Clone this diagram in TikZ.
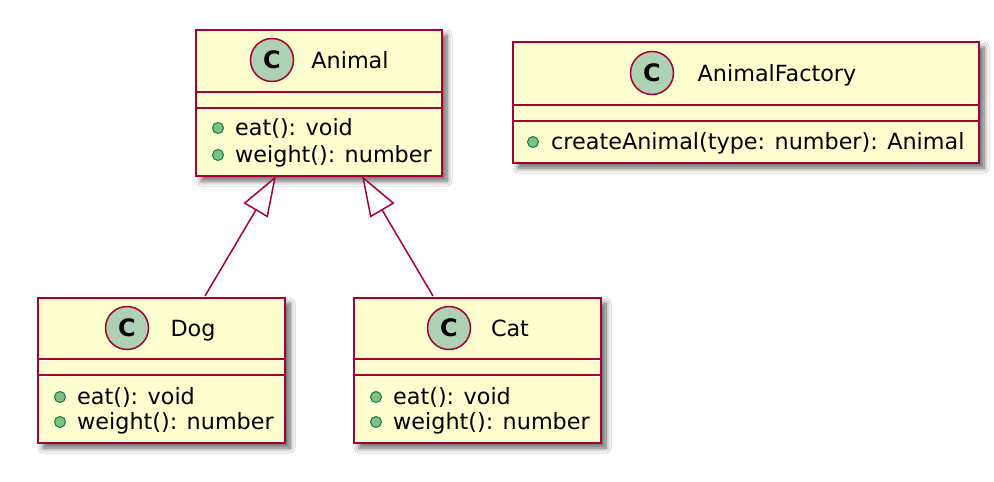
\documentclass[tikz,border=0pt]{standalone}
\usepackage{fontspec}
\setmainfont{DejaVu Sans}
\usetikzlibrary{arrows.meta,shadows.blur}
\definecolor{umlborder}{HTML}{A80036}
\definecolor{umlfill}{HTML}{FEFECE}
\definecolor{circfill}{HTML}{ADD1B2}
\definecolor{bulfill}{HTML}{84BE84}
\definecolor{bulborder}{HTML}{038048}
\begin{document}
\begin{tikzpicture}[x=1pt,y=-1pt,
  classbox/.style={draw=umlborder, fill=umlfill, line width=2.2pt, anchor=north west, inner sep=0pt,
    blur shadow={shadow xshift=5pt, shadow yshift=-5pt, shadow blur radius=5pt, shadow blur steps=10, shadow opacity=60}},
  sepline/.style={draw=umlborder, line width=2.2pt},
  ccircle/.style={circle, draw=umlborder, fill=circfill, line width=1.5pt, minimum size=43pt, inner sep=0pt,
    font=\fontsize{24}{29}\selectfont\bfseries},
  ctitle/.style={anchor=base, inner sep=0pt, font=\fontsize{22.3}{27}\selectfont},
  bullet/.style={circle, draw=bulborder, fill=bulfill, line width=1pt, minimum size=11pt, inner sep=0pt},
  meth/.style={anchor=base west, inner sep=0pt, font=\fontsize{22.3}{27}\selectfont},
  inherit/.style={draw=umlborder, line width=1.5pt, -{Triangle[length=40pt, width=28pt, fill=white]}}
]
\useasboundingbox[fill=white] (0,0) rectangle (994,482);

% Animal
\node[classbox, minimum width=246pt, minimum height=146pt] (animal) at (195,29) {};
\draw[sepline] ([yshift=-63pt]animal.north west) -- ([yshift=-63pt]animal.north east);
\draw[sepline] ([yshift=-79pt]animal.north west) -- ([yshift=-79pt]animal.north east);
\node[ccircle] (animalC) at (272,60) {C};
\node[ctitle] (animalT) at (350,68) {Animal};
\node[bullet] (animalB1) at (218,128) {};
\node[meth] (animalM1) at (235,135) {eat(): void};
\node[bullet] (animalB2) at (218,155) {};
\node[meth] (animalM2) at (235,162) {weight(): number};

% AnimalFactory
\node[classbox, minimum width=466pt, minimum height=121pt] (factory) at (512,41) {};
\draw[sepline] ([yshift=-64pt]factory.north west) -- ([yshift=-64pt]factory.north east);
\draw[sepline] ([yshift=-80pt]factory.north west) -- ([yshift=-80pt]factory.north east);
\node[ccircle] (factoryC) at (652,73) {C};
\node[ctitle] (factoryT) at (777,81) {AnimalFactory};
\node[bullet] (factoryB1) at (533,142) {};
\node[meth] (factoryM1) at (551,149) {createAnimal(type: number): Animal};

% Dog
\node[classbox, minimum width=247pt, minimum height=145pt] (dog) at (37,297) {};
\draw[sepline] ([yshift=-62pt]dog.north west) -- ([yshift=-62pt]dog.north east);
\draw[sepline] ([yshift=-78pt]dog.north west) -- ([yshift=-78pt]dog.north east);
\node[ccircle] (dogC) at (127,328) {C};
\node[ctitle] (dogT) at (193,336) {Dog};
\node[bullet] (dogB1) at (60,397) {};
\node[meth] (dogM1) at (77,404) {eat(): void};
\node[bullet] (dogB2) at (60,422) {};
\node[meth] (dogM2) at (77,429) {weight(): number};

% Cat
\node[classbox, minimum width=247pt, minimum height=145pt] (cat) at (353,297) {};
\draw[sepline] ([yshift=-62pt]cat.north west) -- ([yshift=-62pt]cat.north east);
\draw[sepline] ([yshift=-78pt]cat.north west) -- ([yshift=-78pt]cat.north east);
\node[ccircle] (catC) at (449,328) {C};
\node[ctitle] (catT) at (510,336) {Cat};
\node[bullet] (catB1) at (376,397) {};
\node[meth] (catM1) at (393,404) {eat(): void};
\node[bullet] (catB2) at (376,422) {};
\node[meth] (catM2) at (393,429) {weight(): number};

% inheritance
\coordinate (dogS) at (205,296);
\coordinate (catS) at (433,296);
\coordinate (tipL) at (276,176);
\coordinate (tipR) at (362,176);
\draw[inherit] (dogS) -- (tipL);
\draw[inherit] (catS) -- (tipR);
\end{tikzpicture}
\end{document}
